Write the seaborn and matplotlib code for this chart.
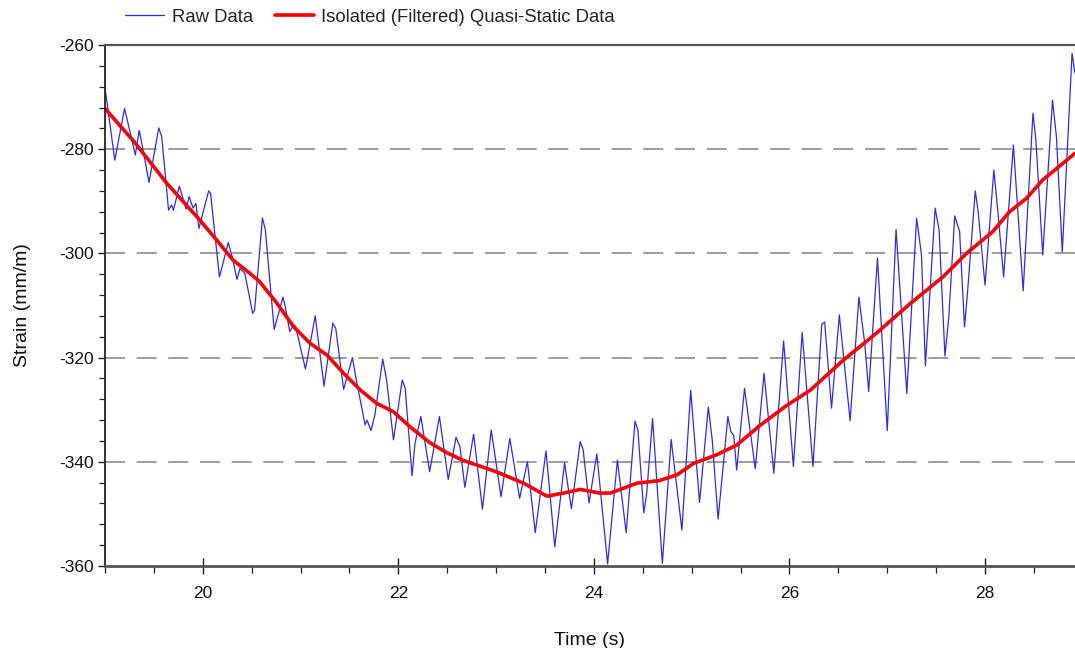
import numpy as np
import pandas as pd
import matplotlib
matplotlib.use("Agg")
import matplotlib.pyplot as plt
from matplotlib.ticker import MultipleLocator
import seaborn as sns

# ---- data ----
raw_time = [19.00, 19.02, 19.10, 19.20, 19.26, 19.31, 19.35, 19.39, 19.45, 19.55,
            19.58, 19.65, 19.68, 19.70, 19.76, 19.83, 19.86, 19.90, 19.93, 19.96,
            20.06, 20.08, 20.17, 20.20, 20.26, 20.30, 20.35, 20.38, 20.43, 20.51,
            20.53, 20.61, 20.64, 20.73, 20.82, 20.84, 20.89, 20.93, 20.95, 21.05,
            21.15, 21.24, 21.33, 21.36, 21.44, 21.53, 21.57, 21.66, 21.68, 21.72,
            21.76, 21.84, 21.88, 21.95, 22.04, 22.07, 22.14, 22.17, 22.23, 22.32,
            22.42, 22.51, 22.59, 22.63, 22.68, 22.77, 22.86, 22.95, 23.05, 23.14,
            23.24, 23.32, 23.40, 23.51, 23.60, 23.70, 23.73, 23.77, 23.86, 23.89,
            23.95, 24.03, 24.14, 24.24, 24.33, 24.42, 24.45, 24.51, 24.54, 24.60,
            24.70, 24.79, 24.90, 24.99, 25.08, 25.17, 25.21, 25.27, 25.37, 25.40,
            25.43, 25.46, 25.54, 25.65, 25.74, 25.84, 25.94, 26.04, 26.13, 26.24,
            26.33, 26.36, 26.43, 26.51, 26.55, 26.62, 26.71, 26.77, 26.81, 26.90,
            27.00, 27.09, 27.20, 27.30, 27.33, 27.35, 27.39, 27.49, 27.53, 27.59,
            27.63, 27.69, 27.74, 27.79, 27.82, 27.90, 27.93, 28.00, 28.09, 28.13,
            28.19, 28.29, 28.39, 28.49, 28.52, 28.59, 28.69, 28.73, 28.79, 28.89,
            28.92]
raw_strain = [-268.3, -270.9, -282.1, -272.2, -277.0, -281.1, -276.4, -280.2, -286.4, -275.9,
              -277.6, -291.7, -290.7, -291.7, -287.1, -291.5, -289.1, -291.3, -290.4, -295.2,
              -288.0, -288.5, -304.5, -302.4, -297.9, -300.6, -305.0, -302.9, -303.8, -311.5,
              -310.9, -293.2, -295.5, -314.6, -308.4, -309.9, -315.0, -313.7, -314.1, -322.2,
              -312.0, -325.5, -313.4, -314.4, -326.1, -320.0, -324.3, -332.9, -332.0, -334.0,
              -331.0, -320.3, -324.3, -335.8, -324.3, -325.9, -342.7, -336.5, -331.3, -341.9,
              -331.3, -343.4, -335.3, -337.1, -344.9, -334.7, -349.1, -333.9, -346.7, -335.5,
              -347.0, -340.0, -353.6, -337.9, -356.3, -340.2, -344.1, -349.0, -336.1, -337.7,
              -347.9, -338.5, -359.6, -339.7, -353.6, -332.2, -333.9, -349.8, -346.0, -331.7,
              -359.5, -335.7, -353.1, -326.3, -347.8, -329.5, -335.8, -351.0, -331.3, -334.2,
              -334.9, -341.6, -325.9, -341.3, -323.0, -342.2, -316.8, -340.9, -315.2, -340.9,
              -313.6, -313.2, -329.7, -311.8, -319.2, -332.1, -308.4, -317.3, -326.5, -300.9,
              -334.0, -295.4, -326.9, -293.3, -297.4, -300.3, -321.6, -291.3, -295.5, -319.7,
              -312.1, -292.8, -295.8, -314.1, -307.7, -288.0, -292.0, -306.1, -284.0, -291.7,
              -304.5, -279.2, -307.2, -273.1, -278.2, -300.3, -270.6, -277.6, -299.7, -261.6,
              -265.4]

filt_time = [19.00, 19.30, 19.63, 19.97, 20.14, 20.31, 20.48, 20.58, 20.76, 20.93,
             21.10, 21.27, 21.44, 21.61, 21.78, 21.95, 22.12, 22.32, 22.49, 22.66,
             23.00, 23.28, 23.52, 23.69, 23.86, 24.06, 24.17, 24.44, 24.67, 24.85,
             25.02, 25.25, 25.46, 25.70, 25.97, 26.21, 26.55, 26.89, 27.23, 27.57,
             27.81, 28.08, 28.25, 28.42, 28.59, 28.92]
filt_strain = [-272.2, -278.6, -286.5, -293.6, -297.4, -301.3, -303.8, -305.4, -309.6, -314.1,
               -317.3, -319.5, -323.0, -326.2, -328.8, -330.4, -333.3, -336.3, -338.2, -339.7,
               -341.9, -344.1, -346.6, -346.0, -345.3, -346.0, -346.0, -344.1, -343.6, -342.5,
               -340.3, -338.7, -336.8, -333.0, -329.2, -326.3, -320.5, -315.3, -309.7, -304.5,
               -300.0, -295.8, -292.0, -289.5, -285.9, -280.8]

x_ticks = [20, 22, 24, 26, 28]
y_ticks = [-260, -280, -300, -320, -340, -360]

raw_label = "Raw Data"
filt_label = "Isolated (Filtered) Quasi-Static Data"

# ---- plotting ----
sns.set_theme(style="white")
plt.rcParams['font.family'] = ['Liberation Sans', 'DejaVu Sans']
plt.rcParams['axes.unicode_minus'] = False
tick_family = ['Liberation Sans Narrow', 'Liberation Sans', 'DejaVu Sans']

fig = plt.figure(figsize=(10.75, 6.48), dpi=100)
ax = fig.add_axes([105/1075, 1 - 566/648, 1 - 105/1075, (566 - 45)/648])

raw_df = pd.DataFrame({"Time": raw_time, "Strain": raw_strain})
filt_df = pd.DataFrame({"Time": filt_time, "Strain": filt_strain})

sns.lineplot(data=raw_df, x="Time", y="Strain", ax=ax, color="#2a2aff",
             linewidth=0.9, label=raw_label, estimator=None, sort=False)
sns.lineplot(data=filt_df, x="Time", y="Strain", ax=ax, color="#ff0000",
             linewidth=2.6, label=filt_label, estimator=None, sort=False)

ax.set_xlim(19.0, 28.92)
ax.set_ylim(-360, -260)
ax.set_xticks(x_ticks)
ax.set_yticks(y_ticks)
ax.xaxis.set_minor_locator(MultipleLocator(0.5))
ax.yaxis.set_minor_locator(MultipleLocator(4))

for yv in y_ticks[1:-1]:
    ax.axhline(yv, color="#8c8c8c", linewidth=1.2, linestyle=(0, (12, 7)), zorder=0)

ax.tick_params(bottom=True, left=True, which="both")
ax.tick_params(axis="x", which="major", direction="inout", length=11, width=1.0,
               color="#222222", pad=9)
ax.tick_params(axis="x", which="minor", direction="out", length=5, width=0.9, color="#222222")
ax.tick_params(axis="y", which="major", direction="out", length=5, width=1.0,
               color="#222222", pad=3)
ax.tick_params(axis="y", which="minor", direction="out", length=4, width=0.9, color="#222222")
for lab in ax.get_xticklabels() + ax.get_yticklabels():
    lab.set_fontfamily(tick_family)
    lab.set_fontsize(12.5)
    lab.set_color("#111111")

ax.spines["left"].set_color("#222222")
ax.spines["left"].set_linewidth(1.3)
ax.spines["bottom"].set_color("#555555")
ax.spines["bottom"].set_linewidth(2.0)
ax.spines["top"].set_color("#555555")
ax.spines["top"].set_linewidth(1.6)
ax.spines["right"].set_visible(False)

ax.set_xlabel("Time (s)", fontsize=14, labelpad=22, color="#111111")
ax.set_ylabel("Strain (mm/m)", fontsize=14, labelpad=20, color="#111111")

ax.legend_.remove()
handles, labels = ax.get_legend_handles_labels()
fig.legend(handles, labels, loc="center", bbox_to_anchor=(370/1075, 1 - 17/648),
           ncol=2, frameon=False, fontsize=13.3, handlelength=2.1, handletextpad=0.4,
           columnspacing=1.2)

fig.savefig("out.png", dpi=100)
